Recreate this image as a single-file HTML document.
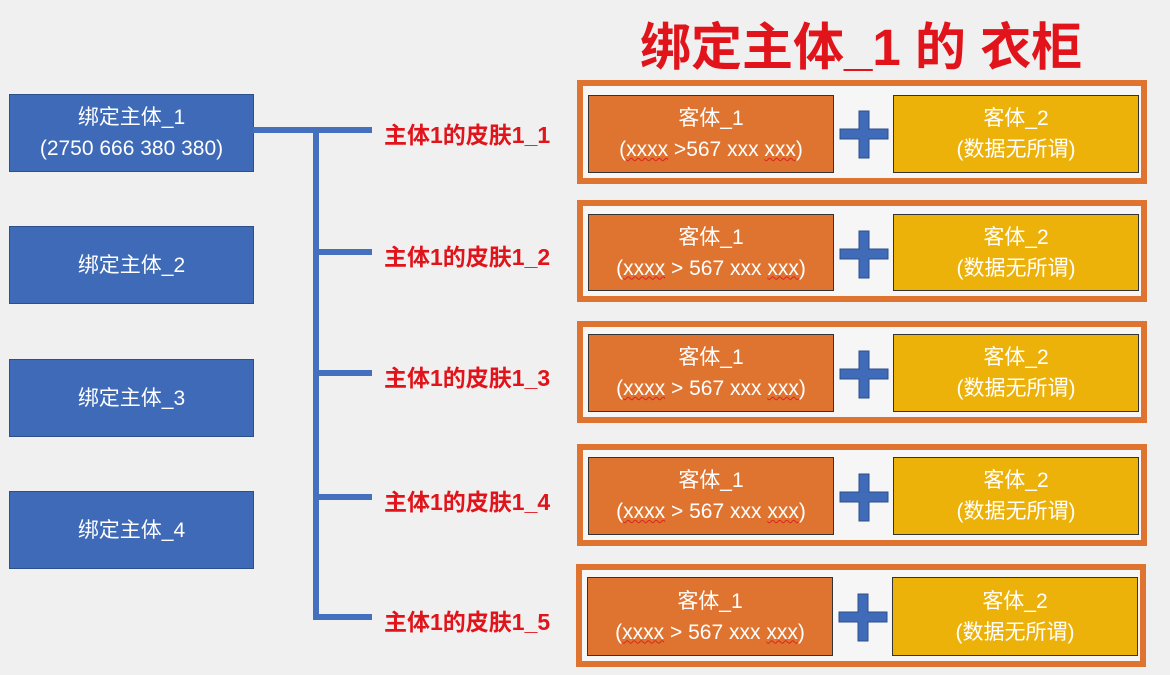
<!DOCTYPE html>
<html><head><meta charset="utf-8"><style>
body{margin:0;width:1170px;height:675px;background:#f0f0f0;position:relative;overflow:hidden;font-family:"Liberation Sans","Noto Sans CJK SC",sans-serif}
.a{position:absolute;box-sizing:border-box}
.l{background:#3e6ab7;border:1px solid #2d4f8a;color:#fff;font-size:21px;display:flex;flex-direction:column;align-items:center;justify-content:center;line-height:31px}
.bar{background:#4470bd}
.lab{color:#e0141a;font-weight:bold;font-size:23px;white-space:nowrap}
.fr{border:6px solid #df7430;background:#f6f6f6}
.o{background:#df7430;border:1px solid #333;color:#fff;font-size:21px;display:flex;flex-direction:column;align-items:center;justify-content:center;line-height:31px}
.y{background:#edb20a;border:1px solid #333;color:#fff;font-size:21px;display:flex;flex-direction:column;align-items:center;justify-content:center;line-height:31px}
.u{text-decoration:underline wavy #d22;text-decoration-thickness:1px}
</style></head><body>
<div class="a" style="left:640px;top:6px;color:#e0141a;font-weight:bold;font-size:51px;white-space:nowrap">绑定主体_1 的 衣柜</div>

<div class="a l" style="left:9px;top:94px;width:245px;height:78px"><span>绑定主体_1</span><span>(2750 666 380 380)</span></div>
<div class="a l" style="left:9px;top:226px;width:245px;height:78px">绑定主体_2</div>
<div class="a l" style="left:9px;top:359px;width:245px;height:78px">绑定主体_3</div>
<div class="a l" style="left:9px;top:491px;width:245px;height:78px">绑定主体_4</div>

<div class="a bar" style="left:253px;top:127px;width:119px;height:6px"></div>
<div class="a bar" style="left:313px;top:130px;width:6px;height:490px"></div>
<div class="a bar" style="left:313px;top:249px;width:59px;height:6px"></div>
<div class="a bar" style="left:313px;top:370px;width:59px;height:6px"></div>
<div class="a bar" style="left:313px;top:494px;width:59px;height:6px"></div>
<div class="a bar" style="left:313px;top:614px;width:59px;height:6px"></div>

<div class="a lab" style="left:384px;top:116px">主体1的皮肤1_1</div>
<div class="a lab" style="left:384px;top:238px">主体1的皮肤1_2</div>
<div class="a lab" style="left:384px;top:359px">主体1的皮肤1_3</div>
<div class="a lab" style="left:384px;top:483px">主体1的皮肤1_4</div>
<div class="a lab" style="left:384px;top:603px">主体1的皮肤1_5</div>

<div class="a fr" style="left:577px;top:80px;width:570px;height:104px"></div>
<div class="a o" style="left:588px;top:95px;width:246px;height:78px"><span>客体_1</span><span>(<span class="u">xxxx</span> &gt;567 xxx <span class="u">xxx</span>)</span></div>
<div class="a y" style="left:893px;top:95px;width:246px;height:78px"><span>客体_2</span><span>(数据无所谓)</span></div>

<div class="a fr" style="left:577px;top:200px;width:570px;height:102px"></div>
<div class="a o" style="left:588px;top:214px;width:246px;height:77px"><span>客体_1</span><span>(<span class="u">xxxx</span> &gt; 567 xxx <span class="u">xxx</span>)</span></div>
<div class="a y" style="left:893px;top:214px;width:246px;height:77px"><span>客体_2</span><span>(数据无所谓)</span></div>

<div class="a fr" style="left:577px;top:321px;width:570px;height:102px"></div>
<div class="a o" style="left:588px;top:334px;width:246px;height:78px"><span>客体_1</span><span>(<span class="u">xxxx</span> &gt; 567 xxx <span class="u">xxx</span>)</span></div>
<div class="a y" style="left:893px;top:334px;width:246px;height:78px"><span>客体_2</span><span>(数据无所谓)</span></div>

<div class="a fr" style="left:577px;top:444px;width:570px;height:102px"></div>
<div class="a o" style="left:588px;top:457px;width:246px;height:78px"><span>客体_1</span><span>(<span class="u">xxxx</span> &gt; 567 xxx <span class="u">xxx</span>)</span></div>
<div class="a y" style="left:893px;top:457px;width:246px;height:78px"><span>客体_2</span><span>(数据无所谓)</span></div>

<div class="a fr" style="left:576px;top:564px;width:570px;height:103px"></div>
<div class="a o" style="left:587px;top:577px;width:246px;height:79px"><span>客体_1</span><span>(<span class="u">xxxx</span> &gt; 567 xxx <span class="u">xxx</span>)</span></div>
<div class="a y" style="left:892px;top:577px;width:246px;height:79px"><span>客体_2</span><span>(数据无所谓)</span></div>

<svg class="a" style="left:0;top:0" width="1170" height="675">
<g fill="#3f6bb8" stroke="#2d4f8a" stroke-width="1">
<path d="M859 111h10v18h19v10h-19v19h-10v-19h-19v-10h19z"/>
<path d="M859 231h10v18h19v10h-19v19h-10v-19h-19v-10h19z"/>
<path d="M859 351h10v18h19v10h-19v19h-10v-19h-19v-10h19z"/>
<path d="M859 474h10v18h19v10h-19v19h-10v-19h-19v-10h19z"/>
<path d="M858 594h10v18h19v10h-19v19h-10v-19h-19v-10h19z"/>
</g></svg>
</body></html>
